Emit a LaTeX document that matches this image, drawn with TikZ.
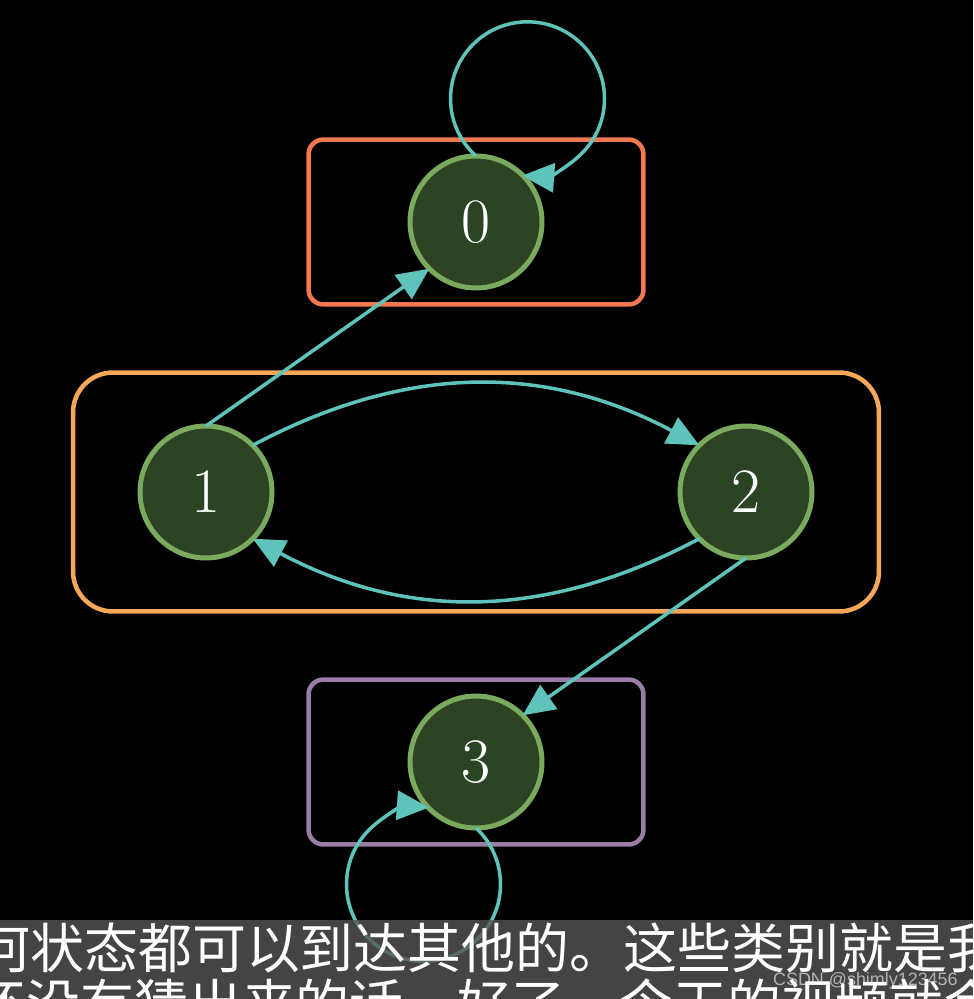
\documentclass[tikz,border=0pt]{standalone}
\usepackage{fontspec}
\newfontfamily\cjk{Noto Sans CJK SC}
\newfontfamily\markfont{Liberation Sans}
\usetikzlibrary{arrows.meta,fit}
\usepackage{xcolor}
\definecolor{edgeteal}{HTML}{5EC4BB}
\definecolor{stateborder}{HTML}{7AAA5E}
\definecolor{statefill}{HTML}{2C4424}
\definecolor{clusterred}{HTML}{F4784F}
\definecolor{clusterorange}{HTML}{F5A85A}
\definecolor{clusterpurple}{HTML}{9A7CA8}
\definecolor{bandgray}{HTML}{565656}

\begin{document}
\begin{tikzpicture}[x=0.02cm, y=-0.02cm,
  state/.style={circle, draw=stateborder, fill=statefill, line width=0.1cm, minimum size=2.64cm, inner sep=0pt, outer sep=0pt, text=white, font=\fontsize{36}{40}\selectfont},
  cluster/.style={draw, rounded corners=0.3cm, line width=0.09cm, inner xsep=2.03cm, inner ysep=0.33cm},
  edge/.style={draw=edgeteal, line width=0.07cm, -{Triangle[length=0.64cm, width=0.58cm]}},
  subtitle/.style={anchor=base west, inner sep=0pt, text=white, font=\cjk\fontsize{30.7}{36}\selectfont}
]
  \fill[black] (0,0) rectangle (973,999);
  \useasboundingbox (0,0) rectangle (973,999);

  % states
  \node[state] (n0) at (476,222) {0};
  \node[state] (n1) at (206,492) {1};
  \node[state] (n2) at (746,492) {2};
  \node[state] (n3) at (476,762) {3};

  % classes
  \node[cluster, draw=clusterred, fit=(n0)] (c0) {};
  \node[cluster, draw=clusterorange, fit=(n1) (n2), inner xsep=1.34cm, inner ysep=1.07cm, rounded corners=0.8cm] (c12) {};
  \node[cluster, draw=clusterpurple, fit=(n3)] (c3) {};

  % transitions
  \draw[edge] (n0.north) arc[start angle=228, end angle=-94, radius=1.54cm];
  \draw[edge] (n1.north) -- (n0.225);
  \draw[edge] (n1.45) to[bend left=28] (n2.135);
  \draw[edge] (n2.225) to[bend left=28] (n1.-45);
  \draw[edge] (n2.south) -- (n3.45);
  \draw[edge] (n3.south) arc[start angle=47, end angle=-274, radius=1.54cm];

  % subtitle band
  \begin{scope}
    \clip (0,0) rectangle (973,999);
    \fill[bandgray, opacity=0.8] (0,920) rectangle (973,999);
    \node[subtitle] (line1) at (-24,968) {何状态都可以到达其他的。这些类别就是我};
    \node[subtitle] (line2) at (-28,1024) {还没有猜出来的话，好了，今天的视频就会};
    \node[anchor=base east, inner sep=0pt, text=white, opacity=0.6, font=\markfont\fontsize{10.2}{12}\selectfont] (mark) at (958,985) {CSDN @shimly123456};
  \end{scope}
\end{tikzpicture}
\end{document}
